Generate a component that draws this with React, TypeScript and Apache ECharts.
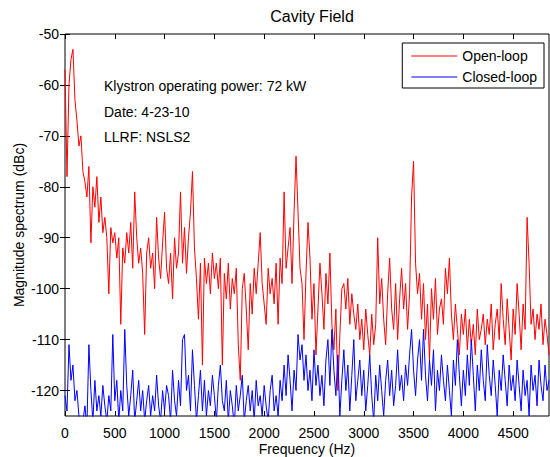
import React, { useEffect, useRef } from 'react';
import * as echarts from 'echarts';

// Frequency step between samples (Hz)
const FREQ_STEP = 20;

// Open-loop magnitude spectrum (dBc), 0..4860 Hz every 20 Hz
const openLoop = [
  -57, -78, -60, -55, -53, -63, -67, -72, -70, -77,
  -79, -82, -76, -91, -80, -84, -78, -87, -82, -89,
  -86, -90, -101, -88, -91, -89, -94, -90, -107, -92,
  -95, -89, -93, -87, -96, -81, -90, -95, -92, -97,
  -109, -93, -90, -96, -93, -100, -86, -94, -98, -91,
  -85, -96, -99, -93, -102, -90, -96, -93, -81, -95,
  -88, -97, -90, -85, -77, -92, -98, -106, -95, -115,
  -94, -99, -95, -101, -93, -98, -95, -100, -94, -115,
  -97, -102, -95, -104, -98, -101, -96, -111, -118, -100,
  -97, -104, -112, -99, -105, -96, -101, -95, -89, -99,
  -103, -107, -96, -101, -98, -103, -95, -107, -94, -99,
  -81, -96, -92, -88, -99, -85, -74, -85, -96, -99,
  -110, -97, -87, -94, -106, -99, -113, -104, -95, -101,
  -108, -97, -103, -93, -107, -112, -104, -120, -109, -100,
  -99, -104, -98, -107, -101, -105, -108, -103, -110, -106,
  -112, -104, -109, -113, -105, -111, -107, -90, -103, -98,
  -106, -111, -101, -94, -104, -108, -99, -110, -102, -96,
  -104, -99, -108, -101, -82, -75, -95, -101, -97, -106,
  -99, -110, -103, -114, -100, -106, -98, -109, -104, -102,
  -107, -96, -101, -94, -105, -110, -103, -108, -113, -105,
  -109, -104, -112, -106, -111, -107, -113, -104, -110, -108,
  -105, -111, -106, -109, -103, -112, -107, -104, -110, -99,
  -106, -111, -102, -108, -114, -104, -109, -99, -105, -112,
  -103, -108, -86, -95, -107, -104, -110, -105, -108, -103,
  -111, -106, -109, -113,
];

// Closed-loop magnitude spectrum (dBc), same frequencies
const closedLoop = [
  -121, -124, -111, -118, -115, -122, -120, -125, -127, -126,
  -123, -127, -111, -120, -126, -118, -124, -121, -125, -119,
  -123, -126, -121, -124, -109, -122, -118, -126, -120, -124,
  -108, -119, -125, -121, -116, -126, -122, -118, -124, -120,
  -126, -122, -119, -125, -121, -124, -117, -123, -126, -120,
  -124, -119, -121, -126, -116, -122, -125, -118, -123, -110,
  -109, -120, -117, -124, -112, -119, -126, -121, -116, -124,
  -118, -125, -120, -123, -117, -121, -126, -119, -115, -122,
  -124, -118, -126, -120, -123, -127, -119, -124, -121, -117,
  -126, -122, -119, -124, -120, -126, -118, -123, -121, -125,
  -119, -123, -126, -120, -117, -124, -121, -125, -118, -122,
  -115, -121, -113, -118, -124, -116, -120, -109, -114, -111,
  -118, -113, -120, -116, -122, -112, -119, -115, -121, -117,
  -123, -114, -110, -119, -108, -116, -121, -113, -125, -118,
  -112, -120, -115, -124, -117, -110, -122, -118, -114, -121,
  -116, -124, -119, -113, -121, -126, -117, -122, -115, -120,
  -125, -118, -114, -121, -116, -123, -119, -112, -120, -117,
  -122, -115, -119, -113, -108, -116, -121, -114, -110, -118,
  -108, -117, -122, -114, -119, -112, -124, -116, -120, -113,
  -118, -122, -115, -120, -125, -114, -119, -110, -117, -123,
  -116, -121, -113, -119, -110, -117, -124, -115, -120, -112,
  -118, -122, -111, -117, -121, -114, -119, -125, -116, -120,
  -113, -118, -123, -115, -120, -117, -122, -114, -119, -124,
  -116, -121, -118, -125, -115, -120, -117, -123, -114, -119,
  -122, -115, -120, -118,
];

const xTicks = [0, 500, 1000, 1500, 2000, 2500, 3000, 3500, 4000, 4500];
const yTicks = [-120, -110, -100, -90, -80, -70, -60, -50];

const titleText = 'Cavity Field';
const xName = 'Frequency (Hz)';
const yName = 'Magnitude spectrum (dBc)';
const seriesNames = ['Open-loop', 'Closed-loop'];
const notes = ['Klystron operating power: 72 kW', 'Date: 4-23-10', 'LLRF: NSLS2'];

const FONT = '"Liberation Sans", Arial, Helvetica, sans-serif';

export default function App() {
  const ref = useRef<HTMLDivElement>(null);

  useEffect(() => {
    if (!ref.current) return;
    const chart = echarts.init(ref.current, undefined, { renderer: 'svg' });
    const freqs = openLoop.map((_, i) => i * FREQ_STEP);
    const xMax = freqs[freqs.length - 1];

    const axisCommon = {
      axisLine: { show: false },
      splitLine: { show: false },
      axisTick: { inside: true, length: 5, lineStyle: { color: '#000', width: 1 } },
    };

    chart.setOption({
      animation: false,
      backgroundColor: '#fff',
      textStyle: { fontFamily: FONT },
      title: {
        text: titleText,
        left: 307,
        top: 3,
        textAlign: 'center',
        textStyle: { fontFamily: FONT, fontSize: 16, fontWeight: 'normal', color: '#000' },
      },
      grid: {
        left: 65,
        top: 34,
        width: 484,
        height: 382,
        show: true,
        borderColor: '#000',
        borderWidth: 1,
        backgroundColor: '#fff',
        containLabel: false,
        outerBoundsMode: 'none',
      },
      legend: {
        data: seriesNames,
        orient: 'vertical',
        right: 6,
        top: 43,
        icon: 'rect',
        backgroundColor: '#fff',
        borderColor: '#000',
        borderWidth: 1,
        borderRadius: 0,
        padding: [5, 7, 3, 9],
        itemGap: 5,
        itemWidth: 46,
        itemHeight: 1,
        textStyle: { fontFamily: FONT, fontSize: 14, color: '#000', lineHeight: 16 },
      },
      xAxis: [
        {
          type: 'value',
          min: 0,
          max: xMax,
          name: xName,
          nameLocation: 'middle',
          nameGap: 26,
          nameMoveOverlap: false,
          nameTextStyle: { fontFamily: FONT, fontSize: 14, color: '#000' },
          ...axisCommon,
          axisTick: { ...axisCommon.axisTick, customValues: xTicks },
          axisLabel: {
            customValues: xTicks,
            formatter: (v: number) => String(v),
            fontFamily: FONT,
            fontSize: 14,
            color: '#000',
            margin: 10,
          },
        },
        {
          type: 'value',
          position: 'top',
          min: 0,
          max: xMax,
          ...axisCommon,
          axisTick: { ...axisCommon.axisTick, customValues: xTicks },
          axisLabel: { show: false },
        },
      ],
      yAxis: [
        {
          type: 'value',
          min: -125,
          max: -50,
          name: yName,
          nameLocation: 'middle',
          nameGap: 39,
          nameMoveOverlap: false,
          nameTextStyle: { fontFamily: FONT, fontSize: 14, color: '#000' },
          ...axisCommon,
          axisTick: { ...axisCommon.axisTick, customValues: yTicks },
          axisLabel: {
            customValues: yTicks,
            formatter: (v: number) => String(v),
            fontFamily: FONT,
            fontSize: 14,
            color: '#000',
            margin: 6,
          },
        },
        {
          type: 'value',
          position: 'right',
          min: -125,
          max: -50,
          ...axisCommon,
          axisTick: { ...axisCommon.axisTick, customValues: yTicks },
          axisLabel: { show: false },
        },
      ],
      series: [
        {
          name: seriesNames[0],
          type: 'line',
          data: freqs.map((f, i) => [f, openLoop[i]]),
          symbol: 'none',
          clip: true,
          lineStyle: { color: '#ff0000', width: 1 },
          itemStyle: { color: '#ff0000' },
        },
        {
          name: seriesNames[1],
          type: 'line',
          data: freqs.map((f, i) => [f, closedLoop[i]]),
          symbol: 'none',
          clip: true,
          lineStyle: { color: '#0000ff', width: 1 },
          itemStyle: { color: '#0000ff' },
        },
      ],
      graphic: notes.map((t, i) => ({
        type: 'text',
        left: 104,
        top: 79 + i * 25.5,
        silent: true,
        style: { text: t, fontFamily: FONT, fontSize: 14, fill: '#000' },
      })),
    });

    return () => chart.dispose();
  }, []);

  return (
    <div
      ref={ref}
      style={{ position: 'absolute', left: 0, top: 0, width: 550, height: 457 }}
    />
  );
}
